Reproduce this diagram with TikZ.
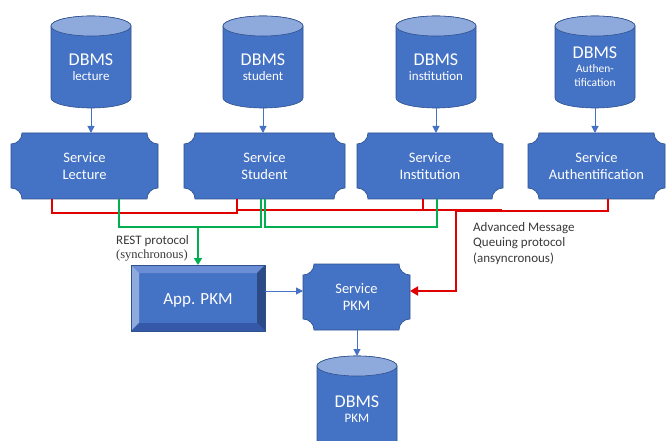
\documentclass[tikz,border=0pt]{standalone}
\usepackage{fontspec}
\setmainfont{Carlito}
\newfontfamily\serifx{Liberation Serif}
\usetikzlibrary{arrows.meta,calc}
\definecolor{boxblue}{HTML}{4472C4}
\definecolor{boxedge}{HTML}{2F528F}
\definecolor{toplight}{HTML}{8EA9DB}
\definecolor{linkred}{HTML}{E00000}
\definecolor{linkgreen}{HTML}{00B050}
\definecolor{labelgray}{HTML}{3A3A3A}
\definecolor{bevlight}{HTML}{8FAADC}
\definecolor{bevtop}{HTML}{6A8DD6}
\definecolor{bevdark}{HTML}{2C4A86}
\definecolor{bevbottom}{HTML}{3558A8}

% plaque-shaped service box: name, x0, ytop, x1, ybottom, text
\newcommand{\plaquebox}[6]{%
  \fill[boxblue,draw=boxedge,line width=0.6pt]
    (#2+11,-#3) -- (#4-11,-#3) arc (180:270:11pt)
    -- (#4,-#5+11) arc (90:180:11pt)
    -- (#2+11,-#5) arc (0:90:11pt)
    -- (#2,-#3-11) arc (270:360:11pt) -- cycle;
  \node[svtext, minimum width=#4-#2, minimum height=#5-#3] (#1)
    at ({(#2+#4)/2},{-(#3+#5)/2}) {#6};
}
% database cylinder: name, cx, ytop, ybottom
\newcommand{\dbcyl}[4]{%
  \fill[boxblue,draw=boxedge,line width=0.6pt]
    (#2-40,-#3-10) -- (#2-40,-#4+10) arc (180:360:40pt and 10pt)
    -- (#2+40,-#3-10) arc (0:180:40pt and 10pt) -- cycle;
  \fill[toplight,draw=boxedge,line width=0.6pt] (#2,-#3-10) ellipse (40pt and 10pt);
  \node[inner sep=0pt, outer sep=0pt, minimum width=80pt, minimum height=#4-#3]
    (#1) at (#2,{-(#3+#4)/2}) {};
}

\begin{document}
\begin{tikzpicture}[x=1pt,y=1pt,
  svtext/.style={text=white, inner sep=0pt, outer sep=0pt, align=center,
    font=\fontsize{14.5}{17}\selectfont},
  bigt/.style={text=white, inner sep=0pt, anchor=base, font=\fontsize{18}{20}\selectfont},
  smallt/.style={text=white, inner sep=0pt, anchor=base, font=\fontsize{13}{15}\selectfont},
  tinyt/.style={text=white, inner sep=0pt, anchor=base, font=\fontsize{11.5}{13}\selectfont},
  lbl/.style={text=labelgray, inner sep=0pt, anchor=base west, font=\fontsize{13}{15}\selectfont},
  bluearrow/.style={draw=boxblue, line width=1pt, -{Triangle[length=7pt,width=7pt]}},
  redlink/.style={draw=linkred, line width=2.6pt},
  greenlink/.style={draw=linkgreen, line width=2.6pt}]
\useasboundingbox (0,0) rectangle (667,-441);
\fill[white] (0,0) rectangle (667,-441);
\clip (0,0) rectangle (667,-441);

% databases
\dbcyl{dbL}{91}{16}{108}
\dbcyl{dbS}{263}{16}{108}
\dbcyl{dbI}{436}{16}{108}
\dbcyl{dbA}{595}{16}{108}
\dbcyl{dbP}{357}{356}{470}

\node[bigt] (dbLa) at (91,-66) {DBMS};
\node[smallt] (dbLb) at (91,-81) {lecture};
\node[bigt] (dbSa) at (263,-66) {DBMS};
\node[smallt] (dbSb) at (263,-81) {student};
\node[bigt] (dbIa) at (436,-66) {DBMS};
\node[smallt] (dbIb) at (436,-81) {institution};
\node[bigt] (dbAa) at (595,-59) {DBMS};
\node[tinyt] (dbAb) at (595,-73) {Authen-};
\node[tinyt] (dbAc) at (595,-87) {tification};
\node[bigt] (dbPa) at (357,-407) {DBMS};
\node[smallt] (dbPb) at (357,-422) {PKM};

% services
\plaquebox{svL}{11}{133}{158}{199}{Service\\Lecture}
\plaquebox{svS}{184}{133}{345}{199}{Service\\Student}
\plaquebox{svI}{357}{133}{503}{199}{Service\\Institution}
\plaquebox{svA}{528}{133}{665}{199}{Service\\Authentification}
\plaquebox{svP}{303}{264}{410}{330}{Service\\PKM}

% App. PKM bevel box
\node[inner sep=0pt, outer sep=0pt, minimum width=134pt, minimum height=66pt] (appP) at (198,-298) {};
\fill[boxblue] (appP.north west) rectangle (appP.south east);
\fill[bevtop] (appP.north west) -- (appP.north east) -- ($(appP.north east)+(-8,-8)$) -- ($(appP.north west)+(8,-8)$) -- cycle;
\fill[bevlight] (appP.north west) -- ($(appP.north west)+(8,-8)$) -- ($(appP.south west)+(8,8)$) -- (appP.south west) -- cycle;
\fill[bevdark] (appP.north east) -- (appP.south east) -- ($(appP.south east)+(-8,8)$) -- ($(appP.north east)+(-8,-8)$) -- cycle;
\fill[bevbottom] (appP.south west) -- (appP.south east) -- ($(appP.south east)+(-8,8)$) -- ($(appP.south west)+(8,8)$) -- cycle;
\draw[boxedge, line width=0.6pt] (appP.north west) rectangle (appP.south east);
\node[text=white, inner sep=0pt, font=\fontsize{17}{20}\selectfont, anchor=base] (appPt) at (198,-304) {App. PKM};

% blue arrows
\draw[bluearrow] (dbL.south) -- (dbL.south |- svL.north);
\draw[bluearrow] (dbS.south) -- (dbS.south |- svS.north);
\draw[bluearrow] (dbI.south) -- (dbI.south |- svI.north);
\draw[bluearrow] (dbA.south) -- (dbA.south |- svA.north);
\draw[bluearrow] (appP.east |- 0,-291) -- (svP.west |- 0,-291);
\draw[bluearrow] (svP.south -| dbP.north) -- (dbP.north);

% red links (AMQP)
\coordinate (redend) at (502,-210);
\draw[redlink] (svL.south -| 52,0) |- (237,-213) -- (svS.south -| 237,0);
\draw[redlink] (svS.south -| 237,0) |- (423,-210) -- (svI.south -| 423,0);
\draw[redlink] (svI.south -| 423,0) |- (redend);
\draw[redlink, -{Triangle[length=8pt,width=9pt]}] (svA.south -| 608,0) |- (456,-211) |- (svP.east |- 0,-291);

% green links (REST)
\draw[greenlink] (svL.south -| 119,0) |- (261,-227) -- (svS.south -| 261,0);
\draw[greenlink] (svS.south -| 265,0) |- (437,-227) -- (svI.south -| 437,0);
\draw[greenlink, -{Triangle[length=7pt,width=8pt]}] (appP.north |- 0,-227) -- (appP.north);

% labels
\node[lbl] (rest1) at (116,-244) {REST protocol};
\node[lbl, font=\serifx\fontsize{12.5}{15}\selectfont] (rest2) at (116,-258) {(synchronous)};
\node[lbl] (amqp1) at (473,-231) {Advanced Message};
\node[lbl] (amqp2) at (473,-246) {Queuing protocol};
\node[lbl] (amqp3) at (473,-262) {(ansyncronous)};
\end{tikzpicture}
\end{document}
